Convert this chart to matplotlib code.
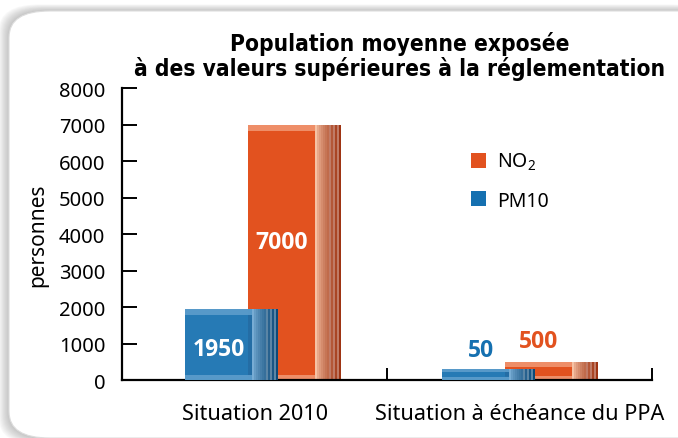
import matplotlib.pyplot as plt
import numpy as np
from matplotlib.patches import FancyBboxPatch, Patch
from matplotlib.colors import to_rgb

categories = ['Situation 2010', 'Situation à échéance du PPA']
no2 = [7000, 500]
pm10 = [1950, 50]
yticks = [0, 1000, 2000, 3000, 4000, 5000, 6000, 7000, 8000]

plt.rcParams['font.family'] = ['Noto Sans', 'DejaVu Sans']
plt.rcParams['mathtext.default'] = 'regular'
BOLD = ['Open Sans', 'Lato', 'DejaVu Sans']

fig = plt.figure(figsize=(6.78, 4.39), dpi=100)
fig.patch.set_facecolor('white')

# cadre arrondi avec ombre douce
x0f, y0f, hf = 9 / 678, 0.0, (439 - 12) / 439
for k in range(10):
    d = (10 - k) * 0.0015
    fig.patches.append(FancyBboxPatch((x0f - d, y0f - d), 1.05, hf + 2 * d,
                                      boxstyle='round,pad=0,rounding_size=0.06', transform=fig.transFigure,
                                      facecolor='#707070', edgecolor='none', alpha=0.045, zorder=-3))
fig.patches.append(FancyBboxPatch((x0f, y0f), 1.05, hf,
                                  boxstyle='round,pad=0,rounding_size=0.06', transform=fig.transFigure,
                                  facecolor='white', edgecolor='#dddddd', lw=0.8, zorder=-2))

ax = fig.add_axes([0.180, 0.1321, 0.7817, 0.665])
ax.set_facecolor('none')
ax.set_xlim(0, 2)
ax.set_ylim(0, 8000)

ypx = 8000 / (0.665 * 439)   # unites par pixel
xpx = 2 / (0.7817 * 678)

ORANGE = ('#e2521f', '#ee8e68', '#f6c2a4', '#9e3413')
BLUE = ('#1570b0', '#5b9ccb', '#7fb2d8', '#0b4775')
W = 0.35
CAP = 26 * xpx
blue_left = [0.238, 1.208]     # position des barres (mise en page)
shift = 0.237


def mix(c1, c2, t):
    a, b = np.array(to_rgb(c1)), np.array(to_rgb(c2))
    return tuple(a + (b - a) * t)


def bar3d(x0, v, col, z, alpha=1.0):
    main, light, pale, dark = col
    h = max(v, 11 * ypx)
    band = min(6 * ypx, h * 0.3)
    ax.bar(x0, h, W, align='edge', color=main, zorder=z, alpha=alpha, linewidth=0)
    ax.bar(x0, band, W - CAP, bottom=h - band, align='edge', color=light, zorder=z + 0.1, alpha=alpha, linewidth=0)
    ax.bar(x0, band * 0.8, W - CAP, align='edge', color=light, zorder=z + 0.1, alpha=alpha, linewidth=0)
    # extremite "3D"
    n = 13
    sw = CAP / n
    for i in range(n):
        t = i / (n - 1)
        c = mix(pale, dark, t ** 0.7)
        if i in (7, 9, 11):
            c = mix(dark, '#ffffff', 0.35)
        ax.bar(x0 + W - CAP + i * sw, h, sw, align='edge', color=c, zorder=z + 0.2, alpha=alpha, linewidth=0)
    return h


hs_no2 = [bar3d(blue_left[i] + shift, v, ORANGE, 2) for i, v in enumerate(no2)]
hs_pm = [bar3d(blue_left[i], v, BLUE, 3, alpha=0.93) for i, v in enumerate(pm10)]

face = (W - CAP) / 2
ax.text(blue_left[0] + face, pm10[0] * 0.44, f'{pm10[0]}', ha='center', va='center', color='white',
        fontsize=16.5, fontweight='bold', family=BOLD, zorder=6)
ax.text(blue_left[0] + shift + face, no2[0] * 0.54, f'{no2[0]}', ha='center', va='center', color='white',
        fontsize=16.5, fontweight='bold', family=BOLD, zorder=6)
ax.annotate(f'{pm10[1]}', (blue_left[1] + face + 0.02, hs_pm[1]), xytext=(0, 5), textcoords='offset points',
            ha='center', va='bottom', color=BLUE[0], fontsize=16.5, fontweight='bold', family=BOLD, zorder=6)
ax.annotate(f'{no2[1]}', (blue_left[1] + shift + face, hs_no2[1]), xytext=(0, 6), textcoords='offset points',
            ha='center', va='bottom', color=ORANGE[0], fontsize=16.5, fontweight='bold', family=BOLD, zorder=6)

ax.spines['top'].set_visible(False)
ax.spines['right'].set_visible(False)
for s in ('left', 'bottom'):
    ax.spines[s].set_linewidth(1.6)
ax.set_yticks(yticks)
ax.set_yticklabels([str(t) for t in yticks], fontsize=14.5)
ax.tick_params(axis='y', direction='in', length=11, width=1.4, pad=12)
ax.set_xticks([1, 2])
ax.set_xticklabels([])
ax.tick_params(axis='x', direction='in', length=9, width=1.4)
for i, c in enumerate(categories):
    ax.text(i + 0.5, -0.08, c, transform=ax.get_xaxis_transform(), ha='center', va='top', fontsize=15.6)
ax.set_ylabel('personnes', fontsize=15, labelpad=8)

handles = [Patch(facecolor=ORANGE[0], edgecolor='none'), Patch(facecolor=BLUE[0], edgecolor='none')]
ax.legend(handles, ['NO$_2$', 'PM10'], loc='upper left', bbox_to_anchor=(0.625, 0.845), frameon=False,
          fontsize=14, handlelength=0.8, handleheight=0.8, handletextpad=0.55, labelspacing=0.95)

fig.text(0.589, 0.872, 'Population moyenne exposée\nà des valeurs supérieures à la réglementation',
         ha='center', va='center', fontsize=16.3, fontweight='bold', linespacing=1.05,
         family=['DejaVu Sans Condensed', 'DejaVu Sans'], fontstretch='condensed', zorder=5)

fig.savefig('out.png', dpi=100)
